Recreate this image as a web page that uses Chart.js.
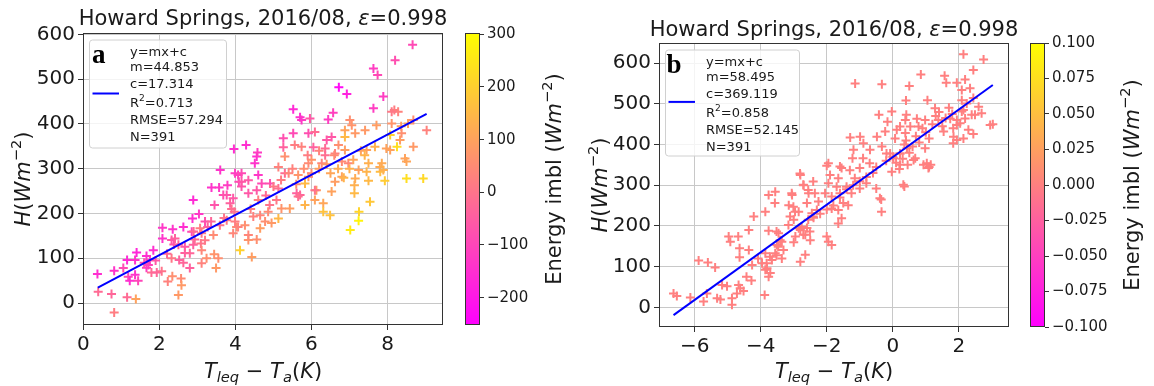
<!DOCTYPE html>
<html>
<head>
<meta charset="utf-8">
<script src="https://cdn.jsdelivr.net/npm/chart.js@4.4.0/dist/chart.umd.min.js"></script>
<style>
  body { margin: 0; background: #fff; }
  #wrap { position: relative; width: 1154px; height: 386px; overflow: hidden; }
  canvas { position: absolute; top: 0; }
</style>
</head>
<body>
<div id="wrap">
  <canvas id="panelA" width="460" height="386" style="left:0px"></canvas>
  <canvas id="cbarA" width="125" height="386" style="left:455px"></canvas>
  <canvas id="panelB" width="440" height="386" style="left:580px"></canvas>
  <canvas id="cbarB" width="134" height="386" style="left:1020px"></canvas>
</div>
<script>
// Panel a: [T_leq - T_a, H, energy imbalance]
const ptsA = [
  [0.37, 65, -150], [0.39, 25, -20], [0.81, -21, 20], [0.74, 20, -30], [0.81, 72, -140],
  [1.05, 78, -90], [1.18, 59, -90], [1.22, 50, -150], [1.15, 96, -160], [1.36, 96, -140],
  [1.40, 113, -170], [1.36, 63, -140], [1.44, 50, -100], [1.15, 13, -20], [1.38, 9, 100],
  [1.66, 105, -150], [1.71, 85, -100], [1.66, 79, -120], [1.84, 118, -150], [1.75, 96, -120],
  [1.79, 68, -20], [2.06, 71, 0], [1.93, 68, -30], [2.08, 168, -130], [2.08, 144, -140],
  [2.22, 48, 30], [2.35, 165, -140], [2.32, 141, -60], [2.38, 131, -70], [2.41, 144, -40],
  [2.34, 60, 60], [2.32, 100, 10], [2.57, 55, 50], [2.58, 40, 80], [2.50, 18, 80],
  [2.52, 96, -40], [2.63, 90, -30], [2.63, 170, -150], [2.67, 126, -60], [2.80, 78, -40],
  [2.87, 189, -150], [2.89, 230, -160], [2.85, 159, -100], [2.89, 130, -40], [2.67, 112, -40],
  [2.80, 111, -30], [3.07, 167, 20], [3.11, 156, 10], [2.93, 142, -20], [3.09, 133, 0],
  [3.11, 118, 40], [3.24, 100, 60], [3.11, 89, 30], [3.04, 199, -130], [3.20, 182, -80],
  [3.27, 170, -40], [3.36, 182, -30], [3.42, 152, 50], [3.44, 109, 70], [3.55, 100, 60],
  [3.49, 78, 80], [3.37, 258, -140], [3.57, 258, -130], [3.60, 297, -140], [3.45, 219, -70],
  [3.68, 241, -80], [3.77, 241, -70], [3.79, 263, -120], [3.86, 223, -40], [3.59, 174, 0],
  [3.77, 185, 10], [3.99, 290, -120], [4.07, 286, -110], [4.09, 271, -100], [3.94, 234, -60],
  [4.03, 170, 60], [4.12, 118, 200], [3.94, 156, 40], [4.16, 260, -70], [3.97, 204, 0],
  [4.43, 103, 90], [4.34, 141, 70], [4.56, 142, 60], [4.65, 167, 90], [4.34, 152, 40],
  [4.25, 174, 60], [4.07, 170, 30], [3.99, 182, 20], [4.47, 193, 30], [4.65, 196, 40],
  [4.78, 182, 60], [4.95, 179, 80], [5.13, 189, 150], [4.86, 204, 50], [4.90, 219, 0],
  [5.08, 230, 10], [5.21, 211, 70], [5.43, 211, 90], [5.61, 245, -40], [5.70, 241, -30],
  [5.83, 219, 140], [5.83, 267, 150], [6.09, 230, 100], [6.13, 252, 80], [6.31, 223, 110],
  [6.31, 204, 170], [6.49, 196, 170], [6.53, 249, 100], [6.62, 271, 90], [6.80, 282, 100],
  [7.02, 163, 260], [7.24, 184, 280], [7.25, 204, 210], [7.13, 245, 150], [7.13, 263, 130],
  [7.15, 278, 120], [7.54, 226, 180], [7.45, 293, 140], [7.50, 312, 130], [7.85, 312, 120],
  [7.93, 273, 190], [7.50, 273, 150], [7.24, 297, 100], [6.97, 312, 40], [6.80, 316, 50],
  [6.27, 312, 40], [6.36, 330, -10], [5.92, 312, 50], [5.30, 327, 60], [5.13, 304, 30],
  [5.30, 290, -20], [5.65, 286, 70], [5.92, 282, 80], [6.00, 290, 50], [4.60, 286, -130],
  [4.69, 267, -90], [4.91, 267, -80], [4.16, 290, -90], [4.34, 274, -60], [4.16, 271, -60],
  [4.56, 327, -150], [4.51, 312, -140], [4.56, 252, -60], [4.34, 245, -60], [5.13, 256, -10],
  [6.09, 252, 0], [5.65, 238, -10], [6.62, 334, 30], [7.81, 293, 160],
  [8.20, 542, -80], [7.63, 524, -120], [7.74, 509, -90], [6.72, 482, -230], [6.93, 467, -180],
  [7.89, 461, -120], [7.63, 435, -120], [8.18, 431, 20], [8.28, 427, 30], [8.11, 427, 10],
  [5.52, 433, -160], [5.70, 415, -150], [5.74, 409, -130], [5.96, 412, -60], [6.44, 410, -120],
  [6.57, 425, -110], [7.01, 409, 60], [7.06, 397, 70], [6.88, 386, 100], [7.41, 386, 80],
  [7.71, 397, 90], [8.11, 401, 70], [8.36, 395, 90], [4.28, 353, -150], [4.58, 336, -120],
  [5.52, 379, -90], [5.26, 368, -80], [5.92, 379, -80], [6.09, 382, -20], [6.40, 364, -60],
  [6.53, 371, -60], [6.88, 371, 150], [7.15, 379, 80], [6.36, 345, -20], [6.71, 353, 60],
  [6.88, 342, 90], [5.74, 349, 30], [5.56, 353, 20], [6.05, 348, -40], [5.26, 348, -40],
  [8.07, 375, 200], [8.25, 349, 230], [7.97, 345, 100], [7.67, 349, 130], [7.45, 342, 100],
  [8.66, 577, -90], [9.03, 386, 30], [8.68, 349, 80], [8.46, 323, 100], [8.50, 316, 110],
  [8.94, 278, 220], [8.50, 278, 230], [8.07, 342, 100], [8.33, 364, 90], [8.54, 401, 100],
  [8.68, 409, 60], [8.37, 379, 60], [7.80, 304, 120], [7.89, 297, 130], [3.96, 344, -150],
  [4.80, 240, -20], [5.00, 260, 10], [5.20, 275, 20], [5.40, 290, 40], [5.50, 300, 30],
  [5.60, 265, 60], [5.80, 300, 60], [6.00, 320, 70], [6.20, 300, 90], [6.40, 310, 80],
  [6.50, 290, 110], [6.60, 330, 50], [6.70, 300, 120], [6.85, 280, 140], [7.00, 300, 130],
  [7.10, 320, 110], [7.30, 340, 100], [7.40, 330, 140], [6.20, 340, 30], [5.90, 330, 20],
  [4.40, 210, 30], [4.60, 230, 20], [3.70, 190, 0], [3.90, 210, -10], [3.20, 140, 10],
  [2.90, 160, -20], [2.50, 130, -30], [2.20, 110, -20], [1.90, 95, -60], [1.60, 90, -80]
];

// Panel b: [T_leq - T_a, H]; every point sits at imbalance 0
const ptsB = [
  [-6.64, 34], [-6.54, 28], [-6.13, 24], [-5.88, 115], [-5.60, 110], [-5.38, 98], [-5.73, 14],
  [-5.63, 34], [-5.32, 22], [-5.22, 19], [-5.17, 55], [-5.02, 52], [-4.87, 22], [-4.87, 6],
  [-4.72, 34], [-4.62, 47], [-4.52, 40], [-4.67, 55], [-4.97, 174], [-4.92, 161], [-4.68, 174],
  [-4.64, 145], [-4.64, 123], [-4.36, 190], [-4.36, 141], [-4.43, 75], [-4.28, 66], [-4.26, 104],
  [-4.21, 223], [-3.86, 235], [-3.76, 276], [-3.56, 284], [-3.76, 188], [-4.08, 120], [-3.96, 108],
  [-3.81, 96], [-3.71, 84], [-3.88, 30], [-3.86, 133], [-3.56, 133], [-3.51, 153], [-3.41, 165],
  [-3.46, 182], [-3.31, 141], [-3.66, 116], [-3.76, 75], [-3.86, 92], [-3.05, 276], [-2.80, 325],
  [-2.70, 300], [-3.15, 251], [-2.85, 235], [-3.00, 215], [-2.85, 194], [-2.65, 178], [-2.50, 165],
  [-2.80, 112], [-2.65, 129], [-2.55, 280], [-2.45, 231], [-2.60, 256], [-2.95, 174],
  [-3.57, 256], [-3.52, 186], [-3.47, 149], [-3.36, 161], [-3.72, 124], [-3.82, 108], [-3.52, 128],
  [-3.36, 120], [-3.06, 280], [-3.01, 247], [-3.11, 223], [-3.16, 202], [-2.96, 235], [-2.81, 329],
  [-2.71, 301], [-2.56, 288], [-2.41, 309], [-2.36, 280], [-2.25, 260], [-2.56, 215], [-2.41, 223],
  [-2.76, 198], [-2.71, 178], [-2.51, 186], [-2.30, 239], [-2.05, 280], [-1.95, 305], [-1.95, 354],
  [-1.90, 325], [-1.60, 346], [-1.65, 317], [-1.70, 296], [-1.85, 272], [-1.60, 280], [-1.40, 296],
  [-1.50, 256], [-1.65, 239], [-1.85, 243], [-1.35, 251], [-1.55, 219], [-1.65, 206], [-2.00, 174],
  [-1.95, 161], [-1.85, 153], [-1.30, 337], [-1.15, 317], [-1.00, 342], [-0.90, 366], [-1.25, 280],
  [-1.00, 292], [-0.70, 354], [-0.80, 305], [-0.50, 292], [-0.39, 268], [-0.34, 235], [-0.19, 378],
  [-0.03, 333], [0.32, 301], [0.02, 366], [0.22, 378], [0.68, 366], [0.93, 350],
  [2.14, 622], [-1.14, 550], [-0.33, 548], [0.85, 572], [1.57, 569], [1.62, 552], [1.94, 552],
  [2.19, 560], [2.44, 583], [2.09, 534], [2.34, 538], [0.50, 544], [0.40, 508], [1.05, 509],
  [2.09, 509], [2.24, 501], [-0.42, 473], [-0.03, 481], [0.41, 473], [-0.16, 456], [1.28, 489],
  [1.38, 460], [1.74, 463], [1.94, 448], [2.14, 415], [1.84, 419], [0.98, 460], [0.73, 463],
  [0.78, 444], [0.53, 444], [0.38, 460], [0.22, 444], [0.12, 436], [0.38, 428], [0.07, 415],
  [-0.48, 419], [-0.23, 432], [-0.99, 419], [-1.29, 417], [-0.89, 403], [-1.19, 387], [-0.69, 387],
  [-0.33, 395], [-0.08, 378], [0.22, 378], [0.43, 391], [0.98, 391], [0.63, 362], [1.03, 354],
  [1.08, 342], [-1.55, 342], [-2.00, 348], [-1.22, 366], [1.54, 432], [0.22, 350], [2.09, 481],
  [2.29, 436], [1.94, 411],
  [2.75, 609], [2.44, 514], [2.60, 493], [2.49, 473], [2.69, 477], [2.95, 448], [3.03, 450],
  [2.44, 426], [1.83, 403], [2.14, 485], [2.19, 464], [2.39, 473], [1.94, 460], [1.83, 440],
  [2.04, 452],
  [-0.20, 360], [0.00, 370], [0.10, 355], [0.20, 340], [0.30, 365], [0.35, 400], [0.40, 410],
  [0.45, 350], [0.50, 380], [0.60, 395], [0.70, 420], [0.80, 405], [0.90, 440], [1.00, 430],
  [1.10, 415], [1.20, 450], [1.30, 470], [1.40, 480], [1.50, 445], [1.60, 465], [1.70, 490],
  [1.80, 475], [-0.50, 345], [-0.60, 330], [-0.80, 320], [-1.00, 310], [-1.20, 300], [-1.40, 290],
  [-1.60, 270], [-1.80, 250], [-2.00, 240], [-2.20, 230], [-2.40, 220], [-2.60, 195], [-2.80, 190],
  [-3.00, 160], [0.35, 297], [-0.35, 265], [1.10, 345], [1.15, 350]
];

// fit: slope, intercept, R2, RMSE, N
const fitA = [44.853, 17.314, 0.713, 57.294, 391];
const fitB = [58.495, 369.119, 0.858, 52.145, 391];
const fitXA = [0.38, 9.03];
const fitXB = [-6.64, 3.03];

const xTicksA = [0, 2, 4, 6, 8];
const xTicksB = [-6, -4, -2, 0, 2];
const yTicks = [0, 100, 200, 300, 400, 500, 600];
const cbTicksA = [-200, -100, 0, 100, 200, 300];
const cbTicksB = [-0.1, -0.075, -0.05, -0.025, 0, 0.025, 0.05, 0.075, 0.1];
const cbRangeA = [-252, 302.5];
const cbRangeB = [-0.1, 0.1];

const titleText = [['Howard Springs, 2016/08, '], ['ε', 'it'], ['=0.998']];
const yTitle = [['H', 'it'], ['('], ['Wm', 'it'], ['\u22122', 'sup'], [')']];
const xTitle = [['T', 'it'], ['leq', 'itsub'], [' \u2212 '], ['T', 'it'], ['a', 'itsub'], ['('], ['K', 'it'], [')']];
const cbTitle = [['Energy imbl ('], ['Wm', 'it'], ['\u22122', 'sup'], [')']];

const FONT = '"DejaVu Sans", sans-serif';
const INK = '#1a1a1a';

function spring(t) {
  t = Math.max(0, Math.min(1, t));
  return `rgb(255,${Math.round(255 * t)},${Math.round(255 * (1 - t))})`;
}

function minusFmt(dec) {
  return v => (v < 0 ? '\u2212' : '') + Math.abs(v).toFixed(dec);
}

// text with italic / sub / superscript pieces
function drawRich(ctx, segs, size, x, y, opts = {}) {
  ctx.save();
  ctx.translate(x, y);
  if (opts.rot) ctx.rotate(opts.rot);
  const parts = segs.map(([t, st = '']) => {
    const small = st.includes('sub') || st.includes('sup');
    const fs = small ? size * 0.7 : size;
    const font = `${st.includes('it') ? 'italic ' : ''}${opts.bold ? 'bold ' : ''}${fs}px ${opts.family || FONT}`;
    ctx.font = font;
    let dy = 0;
    if (st.includes('sub')) dy = size * 0.2;
    if (st.includes('sup')) dy = -size * 0.4;
    return { t, font, dy, w: ctx.measureText(t).width };
  });
  const total = parts.reduce((s, p) => s + p.w, 0);
  let cx = opts.align === 'left' ? 0 : -total / 2;
  const base = opts.middle ? size * 0.36 : 0;
  ctx.fillStyle = opts.color || INK;
  ctx.textBaseline = 'alphabetic';
  ctx.textAlign = 'left';
  for (const p of parts) {
    ctx.font = p.font;
    ctx.fillText(p.t, cx, base + p.dy);
    cx += p.w;
  }
  ctx.restore();
}

function legendLines(f) {
  return [
    [['y=mx+c']],
    [['m=' + f[0].toFixed(3)]],
    [['c=' + f[1].toFixed(3)]],
    [['R'], ['2', 'sup'], ['=' + f[2].toFixed(3)]],
    [['RMSE=' + f[3].toFixed(3)]],
    [['N=' + f[4]]]
  ];
}

function frame(ctx, a) {
  ctx.save();
  ctx.strokeStyle = '#333';
  ctx.lineWidth = 1;
  ctx.strokeRect(Math.round(a.left) + 0.5, Math.round(a.top) + 0.5,
    Math.round(a.right - a.left) - 1, Math.round(a.bottom - a.top) - 1);
  ctx.restore();
}

function panelDecor(cfg) {
  return {
    id: 'decor',
    afterDatasetsDraw(chart) {
      const { ctx, chartArea: a } = chart;
      frame(ctx, a);

      // legend box
      const bx = a.left + 6, by = a.top + 6.5;
      ctx.save();
      ctx.beginPath();
      ctx.roundRect(bx + 0.5, by + 0.5, cfg.box[0], cfg.box[1], 3);
      ctx.fillStyle = 'rgba(255,255,255,0.8)';
      ctx.fill();
      ctx.strokeStyle = '#d0d0d0';
      ctx.lineWidth = 1;
      ctx.stroke();
      ctx.beginPath();
      ctx.moveTo(bx + 3.5, by + cfg.handleY);
      ctx.lineTo(bx + 30, by + cfg.handleY);
      ctx.strokeStyle = '#0000ff';
      ctx.lineWidth = 2;
      ctx.stroke();
      ctx.restore();
      drawRich(ctx, [[cfg.letter]], 27, bx + cfg.letterX, by + 23,
        { align: 'left', bold: true, family: '"Liberation Serif", serif', color: '#000' });
      const rows = [11.4, 26.7, 44, 62.4, 80, 96.7];
      legendLines(cfg.fit).forEach((segs, i) => {
        drawRich(ctx, segs, 13, bx + 41, by + rows[i], { align: 'left', middle: true });
      });
    },
    afterDraw(chart) {
      const { ctx, chartArea: a } = chart;
      const cx = (a.left + a.right) / 2;
      drawRich(ctx, titleText, 21, cx, cfg.titleY);
      drawRich(ctx, xTitle, 21, cx, 370, { middle: true });
      drawRich(ctx, yTitle, 21, cfg.yLabelX, (a.top + a.bottom) / 2, { rot: -Math.PI / 2, middle: true });
    }
  };
}

function axis(range, ticks, pos, fit) {
  return {
    type: 'linear', position: pos, min: range[0], max: range[1],
    afterBuildTicks: s => { s.ticks = ticks.map(v => ({ value: v })); },
    afterFit: fit,
    grid: { color: '#c8c8c8', lineWidth: 1, tickLength: 5, tickColor: '#333', tickWidth: 1 },
    border: { display: false },
    ticks: { font: { family: FONT, size: 20 }, color: INK, padding: 3, maxRotation: 0, autoSkip: false, callback: minusFmt(0) }
  };
}

function makePanel(id, cfg) {
  return new Chart(document.getElementById(id), {
    type: 'scatter',
    data: {
      datasets: [
        {
          data: cfg.fitX.map(x => ({ x, y: cfg.fit[0] * x + cfg.fit[1] })),
          showLine: true, borderColor: '#0000ff', borderWidth: 2, pointRadius: 0, order: 0
        },
        {
          data: cfg.points.map(p => ({ x: p[0], y: p[1] })),
          pointStyle: 'cross', pointRadius: 4.5, pointBorderWidth: 2,
          pointBorderColor: cfg.colors, pointBackgroundColor: cfg.colors, order: 1
        }
      ]
    },
    options: {
      responsive: false, animation: false, devicePixelRatio: 1, events: [],
      layout: { padding: cfg.padding },
      plugins: { legend: { display: false }, tooltip: { enabled: false } },
      scales: {
        x: axis(cfg.xRange, cfg.xTicks, 'bottom', s => { s.height = 30; }),
        y: axis(cfg.yRange, yTicks, 'left', s => { s.width = 45; })
      }
    },
    plugins: [panelDecor(cfg)]
  });
}

function makeCbar(id, cfg) {
  return new Chart(document.getElementById(id), {
    type: 'bar',
    data: {
      labels: [''],
      datasets: [{
        data: [cfg.range],
        backgroundColor: c => {
          const a = c.chart.chartArea;
          if (!a) return '#ff8080';
          const g = c.chart.ctx.createLinearGradient(0, a.bottom, 0, a.top);
          g.addColorStop(0, spring(0));
          g.addColorStop(1, spring(1));
          return g;
        },
        borderWidth: 0, barPercentage: 1, categoryPercentage: 1
      }]
    },
    options: {
      responsive: false, animation: false, devicePixelRatio: 1, events: [],
      layout: { padding: cfg.padding },
      plugins: { legend: { display: false }, tooltip: { enabled: false } },
      scales: {
        x: { display: false },
        y: {
          position: 'right', min: cfg.range[0], max: cfg.range[1],
          afterBuildTicks: s => { s.ticks = cfg.ticks.map(v => ({ value: v })); },
          afterFit: s => { s.width = cfg.axisWidth; },
          grid: { drawOnChartArea: false, tickLength: 4, tickColor: '#333' },
          border: { display: false },
          ticks: { font: { family: FONT, size: 15 }, color: INK, padding: 3, autoSkip: false, callback: minusFmt(cfg.dec) }
        }
      }
    },
    plugins: [{
      id: 'cbdecor',
      afterDraw(chart) {
        const { ctx, chartArea: a } = chart;
        frame(ctx, a);
        drawRich(ctx, cbTitle, 21, cfg.labelX, (a.top + a.bottom) / 2, { rot: -Math.PI / 2, middle: true });
      }
    }]
  });
}

const colorsA = ptsA.map(p => spring((p[2] - cbRangeA[0]) / (cbRangeA[1] - cbRangeA[0])));
const colorB = spring((0 - cbRangeB[0]) / (cbRangeB[1] - cbRangeB[0]));

makePanel('panelA', {
  points: ptsA, colors: colorsA, fit: fitA, fitX: fitXA,
  xRange: [-0.01, 9.46], yRange: [-49, 603], xTicks: xTicksA,
  padding: { left: 38, right: 17, top: 33, bottom: 31 },
  box: [137, 108], handleY: 54, letter: 'a', letterX: 3,
  titleY: 25, yLabelX: 22
});

makePanel('panelB', {
  points: ptsB, colors: ptsB.map(() => colorB), fit: fitB, fitX: fitXB,
  xRange: [-7.08, 3.52], yRange: [-48.4, 649.4], xTicks: xTicksB,
  padding: { left: 34, right: 11, top: 43, bottom: 29 },
  box: [134, 106], handleY: 52.4, letter: 'b', letterX: 1.5,
  titleY: 36, yLabelX: 19
});

makeCbar('cbarA', {
  range: cbRangeA, ticks: cbTicksA, dec: 0, axisWidth: 100,
  padding: { left: 10, right: 0, top: 33, bottom: 61 }, labelX: 98
});

makeCbar('cbarB', {
  range: cbRangeB, ticks: cbTicksB, dec: 3, axisWidth: 109,
  padding: { left: 10, right: 0, top: 43, bottom: 59 }, labelX: 111
});
</script>
</body>
</html>
